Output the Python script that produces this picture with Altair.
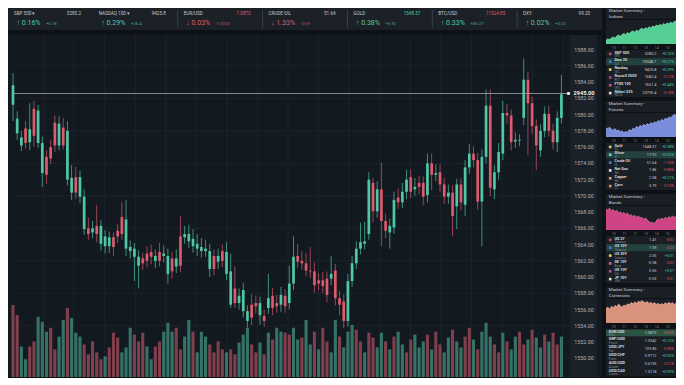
import altair as alt
import pandas as pd

FONT = "Roboto"
GREEN = "#4fc9a5"
RED = "#dc5b6e"
VGREEN = "#3b7f71"
VRED = "#8e4452"

# ---------------- main candlestick data ----------------
opens = [1581.2, 1577.7, 1576.2, 1578.3, 1576.6, 1580.7, 1576.5, 1572.8, 1574.8, 1576.0,
         1579.0, 1576.2, 1578.4, 1572.0, 1570.4, 1572.3, 1569.9, 1565.9, 1566.0, 1565.5,
         1566.3, 1564.1, 1563.8, 1563.8, 1564.9, 1565.7, 1567.4, 1563.5, 1563.2, 1562.5,
         1561.4, 1562.3, 1562.9, 1563.1, 1562.0, 1563.1, 1562.6, 1560.4, 1562.3, 1561.3,
         1565.0, 1564.9, 1564.4, 1563.8, 1563.5, 1563.2, 1563.2, 1561.0, 1562.6, 1561.9,
         1563.2, 1560.4, 1556.6, 1558.6, 1556.8, 1555.8, 1554.6, 1556.6, 1556.8, 1555.3,
         1555.2, 1556.2, 1557.7, 1556.8, 1556.6, 1557.7, 1556.8, 1559.2, 1562.6, 1562.0,
         1561.7, 1560.8, 1560.7, 1559.6, 1559.6, 1559.8, 1559.8, 1560.8, 1557.4, 1557.0,
         1554.6, 1559.5, 1561.7, 1563.5, 1564.1, 1565.3, 1571.6, 1568.1, 1570.8, 1566.9,
         1565.5, 1566.1, 1569.8, 1569.2, 1570.5, 1572.3, 1570.8, 1571.6, 1571.6, 1570.1,
         1574.0, 1572.6, 1572.9, 1571.4, 1569.9, 1570.4, 1568.7, 1571.4, 1568.9, 1573.5,
         1575.2, 1574.4, 1569.3, 1574.8, 1581.1, 1570.8, 1572.9, 1575.2, 1580.2, 1579.9,
         1576.7, 1576.8, 1579.6, 1584.3, 1581.4, 1578.6, 1575.6, 1578.0, 1580.1, 1578.0,
         1576.6, 1579.6]
closes = [1583.6, 1579.5, 1577.2, 1576.5, 1578.2, 1577.4, 1580.5, 1576.5, 1572.6, 1574.6,
          1576.2, 1578.9, 1576.2, 1578.0, 1572.2, 1570.4, 1572.3, 1569.9, 1565.3, 1566.0,
          1565.3, 1566.3, 1565.0, 1564.9, 1563.7, 1565.0, 1565.3, 1567.1, 1563.7, 1563.5,
          1562.5, 1561.7, 1562.0, 1562.5, 1562.6, 1562.0, 1562.9, 1562.6, 1560.7, 1562.3,
          1561.4, 1565.3, 1565.3, 1564.7, 1564.1, 1563.7, 1563.5, 1563.2, 1561.0, 1562.6,
          1562.0, 1563.1, 1560.7, 1556.8, 1557.7, 1558.4, 1555.8, 1555.0, 1556.4, 1556.8,
          1554.6, 1557.4, 1556.2, 1556.4, 1557.8, 1556.4, 1559.2, 1562.5, 1561.9, 1561.7,
          1560.8, 1560.7, 1559.0, 1559.2, 1558.9, 1557.8, 1560.4, 1557.4, 1556.6, 1554.6,
          1559.5, 1561.7, 1563.5, 1564.3, 1564.4, 1572.0, 1568.1, 1570.8, 1566.9, 1565.7,
          1566.3, 1569.5, 1569.2, 1570.5, 1572.0, 1570.5, 1571.1, 1571.1, 1569.9, 1574.0,
          1572.6, 1572.8, 1571.4, 1569.9, 1570.4, 1567.5, 1571.4, 1569.2, 1573.5, 1575.2,
          1574.4, 1569.3, 1574.8, 1581.1, 1571.0, 1572.9, 1575.4, 1580.2, 1579.9, 1576.6,
          1576.9, 1576.9, 1584.3, 1581.4, 1578.6, 1576.2, 1578.0, 1580.1, 1578.0, 1576.6,
          1579.6, 1582.5]
highs = [1585.1, 1580.4, 1578.0, 1579.2, 1581.4, 1581.7, 1581.2, 1577.3, 1575.6, 1576.9,
         1579.9, 1579.8, 1579.6, 1579.2, 1573.8, 1573.6, 1573.1, 1570.8, 1567.3, 1566.9,
         1568.9, 1567.0, 1565.8, 1565.6, 1565.5, 1566.5, 1569.2, 1569.5, 1564.5, 1564.2,
         1563.3, 1563.0, 1563.8, 1564.0, 1563.4, 1564.2, 1563.9, 1563.5, 1563.1, 1563.4,
         1567.5, 1566.3, 1566.4, 1565.9, 1565.3, 1564.8, 1564.6, 1564.1, 1563.4, 1563.5,
         1564.0, 1564.3, 1562.9, 1561.3, 1558.6, 1559.3, 1556.5, 1557.9, 1557.7, 1557.6,
         1556.0, 1560.4, 1558.7, 1557.8, 1558.8, 1558.5, 1561.4, 1565.0, 1564.1, 1563.2,
         1563.0, 1563.7, 1561.8, 1560.5, 1560.6, 1560.7, 1562.6, 1561.6, 1558.3, 1557.9,
         1560.4, 1562.6, 1564.4, 1566.7, 1566.8, 1572.9, 1572.2, 1571.8, 1574.1, 1567.8,
         1567.2, 1570.5, 1570.9, 1571.6, 1573.2, 1573.3, 1572.2, 1572.5, 1572.4, 1575.2,
         1575.2, 1573.9, 1573.9, 1572.2, 1571.4, 1571.3, 1572.1, 1572.2, 1574.4, 1576.4,
         1576.1, 1575.3, 1575.7, 1583.1, 1583.1, 1573.8, 1576.5, 1581.7, 1581.3, 1580.6,
         1577.8, 1577.6, 1586.9, 1585.3, 1582.2, 1579.4, 1578.8, 1581.0, 1581.1, 1578.9,
         1580.4, 1584.9]
lows = [1579.2, 1576.9, 1575.5, 1575.8, 1575.6, 1576.0, 1575.9, 1571.1, 1571.5, 1573.9,
        1575.4, 1575.6, 1575.7, 1571.3, 1569.5, 1569.6, 1569.1, 1565.2, 1564.6, 1564.8,
        1564.3, 1563.3, 1562.9, 1563.0, 1562.6, 1564.2, 1564.6, 1562.6, 1562.3, 1559.5,
        1558.6, 1560.9, 1561.2, 1561.6, 1561.1, 1561.3, 1561.8, 1559.2, 1559.8, 1560.5,
        1560.6, 1564.1, 1563.6, 1563.0, 1562.6, 1562.4, 1562.5, 1560.0, 1560.2, 1561.0,
        1561.2, 1559.6, 1556.2, 1556.2, 1556.0, 1555.0, 1553.8, 1554.1, 1555.5, 1554.1,
        1553.9, 1555.5, 1555.3, 1555.6, 1555.7, 1555.6, 1556.0, 1558.4, 1561.1, 1560.9,
        1560.1, 1559.9, 1558.1, 1558.4, 1558.0, 1556.9, 1559.0, 1556.5, 1555.3, 1553.7,
        1553.9, 1558.8, 1561.0, 1562.8, 1563.4, 1564.6, 1566.7, 1567.3, 1563.8, 1564.8,
        1563.5, 1565.3, 1568.4, 1568.5, 1569.6, 1569.7, 1570.0, 1570.2, 1568.9, 1569.2,
        1570.7, 1571.8, 1570.5, 1569.0, 1569.0, 1565.0, 1565.9, 1568.2, 1567.5, 1572.7,
        1573.5, 1568.3, 1563.8, 1574.0, 1570.0, 1569.6, 1572.0, 1574.4, 1578.9, 1575.6,
        1575.9, 1576.1, 1578.7, 1575.0, 1577.6, 1573.2, 1574.8, 1577.2, 1577.3, 1575.7,
        1575.4, 1578.9]
volumes = [73, 63, 31, 18, 31, 36, 61, 56, 46, 50,
           28, 41, 58, 70, 60, 45, 41, 33, 23, 36,
           25, 18, 21, 30, 45, 40, 25, 30, 50, 43,
           36, 45, 31, 18, 31, 36, 46, 55, 46, 50,
           28, 41, 58, 46, 25, 46, 41, 33, 25, 36,
           28, 25, 28, 23, 35, 43, 50, 33, 25, 35,
           23, 45, 38, 50, 46, 45, 43, 50, 38,
           40, 58, 33, 46, 28, 50, 36, 25, 58, 41,
           30, 46, 53, 48, 36, 25, 45, 40, 30, 45,
           36, 28, 41, 46, 33, 25, 38, 43, 30, 36,
           43, 28, 46, 33, 25, 40, 48, 36, 30, 41,
           50, 38, 28, 46, 55, 41, 33, 25, 45, 36,
           28, 41, 46, 33, 38, 48, 40, 30, 43, 36,
           45, 33, 41]
vol_dirs = ("RRGGRRGGGR" "RGGRGGGRRR" "RRGRRRGGGR" "RRGGRRGGGR" "RGGRGGGRRR" "RGRRGGGRRG" "RGRGGRRGG"
            "RGGRGRRGGR" "GGGRRGRRGG" "RGRGGRRGGG" "RGRRGGRGGR" "RGRGGGRRGR" "GGRRGRGGRG" "RRG")
price_labels = [1588, 1586, 1584, 1582, 1580, 1578, 1576, 1574, 1572, 1570,
                1568, 1566, 1564, 1562, 1560, 1558, 1556, 1554, 1552, 1550]
grid_prices = [1586, 1582, 1578, 1574, 1570, 1566, 1562, 1558, 1554, 1550]
last_price = 1582.6
last_price_text = "2945.00"

# ---------------- ticker bar ----------------
ticker_names = ["S&P 500 ▾", "NASDAQ 100 ▾", "EUR/USD", "CRUDE OIL", "GOLD", "BTC/USD", "DXY"]
ticker_values = ["3285.2", "9425.8", "1.0873", "51.64", "1548.37", "11024.85", "99.20"]
ticker_value_cols = ["#c3c8cd", "#c3c8cd", RED, "#c3c8cd", GREEN, RED, "#c3c8cd"]
ticker_pct = ["0.16%", "0.29%", "0.03%", "1.33%", "0.38%", "0.33%", "0.02%"]
ticker_abs = ["+5.18", "+26.4", "-0.0003", "-0.69", "+5.92", "+36.27", "+0.02"]
ticker_up = [True, True, False, False, True, True, True]

# ---------------- market summary panels ----------------
idx_vals = [3242, 3246, 3244, 3249, 3252, 3248, 3255, 3258, 3254, 3260, 3263, 3259, 3266, 3262,
            3268, 3271, 3267, 3273, 3270, 3276, 3279, 3275, 3281, 3278, 3284, 3280, 3286, 3283,
            3289, 3286, 3291, 3288, 3294, 3290, 3296, 3293, 3298, 3295, 3300, 3302]
fut_vals = [62.4, 62.1, 62.6, 62.0, 61.7, 62.2, 61.5, 61.8, 61.2, 61.6, 61.0, 61.4, 61.1, 61.9,
            61.5, 62.3, 62.0, 62.8, 62.4, 63.1, 62.7, 63.4, 63.0, 63.6, 63.2, 63.9, 63.5, 64.1,
            63.8, 64.5, 64.1, 64.8, 64.4, 65.1, 64.8, 65.5, 65.2, 65.8, 66.2, 66.0]
bond_vals = [1.92, 1.90, 1.93, 1.89, 1.91, 1.88, 1.90, 1.86, 1.88, 1.85, 1.87, 1.84, 1.86, 1.82,
             1.84, 1.81, 1.83, 1.80, 1.82, 1.79, 1.80, 1.77, 1.79, 1.76, 1.74, 1.72, 1.73, 1.71,
             1.75, 1.78, 1.76, 1.79, 1.77, 1.80, 1.78, 1.81, 1.79, 1.82, 1.80, 1.81]
cur_vals = [1.1065, 1.1070, 1.1062, 1.1072, 1.1068, 1.1075, 1.1071, 1.1079, 1.1074, 1.1069,
            1.1076, 1.1073, 1.1080, 1.1077, 1.1084, 1.1080, 1.1086, 1.1082, 1.1088, 1.1085,
            1.1090, 1.1086, 1.1083, 1.1087, 1.1081, 1.1085, 1.1079, 1.1084, 1.1078, 1.1082,
            1.1076, 1.1081, 1.1077, 1.1083, 1.1079, 1.1085, 1.1080, 1.1084, 1.1078, 1.1082]

ind_names = ["S&P 500", "Dow 30", "Nasdaq", "Russell 2000", "FTSE 100", "Nikkei 225"]
ind_desc = ["SPX", "DJI", "IXIC", "RUT", "UKX", "NI225"]
ind_price = ["3285.2", "29348.1", "9425.8", "1682.4", "7651.4", "23795.4"]
ind_chg = ["+0.16%", "+0.21%", "+0.29%", "-0.12%", "+0.44%", "-0.18%"]
ind_icons = ["#d9455f", "#3d7bd9", "#e6d04a", "#c8405a", "#d0506a", "#e8dcc0"]

fut_names = ["Gold", "Silver", "Crude Oil", "Nat Gas", "Copper", "Corn"]
fut_desc = ["GC", "SI", "CL", "NG", "HG", "ZC"]
fut_price = ["1548.37", "17.92", "51.64", "1.86", "2.58", "3.79"]
fut_chg = ["+0.38%", "+0.52%", "-1.33%", "-0.85%", "+0.21%", "-0.13%"]
fut_icons = ["#e6c84a", "#6fd6c0", "#4a7fd0", "#e8eef0", "#e39a5a", "#d9904a"]

bond_names = ["US 2Y", "US 10Y", "US 30Y", "DE 10Y", "UK 10Y", "JP 10Y"]
bond_desc = ["Treasury", "Treasury", "Treasury", "Bund", "Gilt", "JGB"]
bond_price = ["1.41", "1.59", "2.05", "-0.38", "0.55", "-0.03"]
bond_chg = ["-0.02", "-0.03", "+0.01", "-0.02", "+0.01", "-0.01"]
bond_icons = ["#d9455f", "#3d7bd9", "#e6d04a", "#d95a8f", "#c84a9a", "#e8dcc0"]

cur_names = ["EUR/USD", "GBP/USD", "USD/JPY", "USD/CHF", "AUD/USD", "USD/CAD"]
cur_desc = ["Euro", "Pound", "Yen", "Franc", "Aussie", "Loonie"]
cur_price = ["1.0873", "1.3042", "109.85", "0.9712", "0.6735", "1.3218"]
cur_chg = ["-0.03%", "+0.12%", "-0.08%", "+0.05%", "-0.21%", "+0.09%"]

# =====================================================================
MAIN_W, MAIN_H = 594, 342
PANEL_W = 70
PANEL_BG = "#1a1f25"

n = len(opens)
candles = pd.DataFrame({"i": list(range(n)), "open": opens, "close": closes,
                        "high": highs, "low": lows})
candles["col"] = [GREEN if c >= o else RED for o, c in zip(opens, closes)]
vol_df = pd.DataFrame({"i": list(range(n)), "vol": volumes,
                       "vcol": [VGREEN if ch == "G" else VRED for ch in vol_dirs]})

XMAX = 139.5
BAND = 133.0
xs = alt.Scale(domain=[0, XMAX], nice=False, zero=False)
ys = alt.Scale(domain=[1547.7, 1589.8], nice=False, zero=False)
vs = alt.Scale(domain=[0, 347], nice=False)

X = lambda f: alt.X(f, scale=xs, axis=None)
Yp = lambda f: alt.Y(f, scale=ys, axis=None)

band = alt.Chart(pd.DataFrame({"a": [BAND], "b": [XMAX], "lo": [1547.7], "hi": [1589.8]})).mark_rect(
    color="#1a2129").encode(x=X("a:Q"), x2="b:Q", y=Yp("lo:Q"), y2="hi:Q")

vgrid = alt.Chart(pd.DataFrame({"x": [7.3 * k for k in range(1, 19)]})).mark_rule(
    color="#1e262e", strokeWidth=0.8).encode(x=X("x:Q"))

hgrid = alt.Chart(pd.DataFrame({"p": grid_prices, "a": [0] * len(grid_prices),
                                "b": [BAND] * len(grid_prices)})).mark_rule(
    color="#1e262e", strokeWidth=0.8).encode(x=X("a:Q"), x2="b:Q", y=Yp("p:Q"))

volume = alt.Chart(vol_df).mark_bar(size=3.1, opacity=0.88, clip=True).encode(
    x=X("i:Q"), y=alt.Y("vol:Q", scale=vs, axis=None), color=alt.Color("vcol:N", scale=None))

wicks = alt.Chart(candles).mark_rule(strokeWidth=0.8, clip=True, opacity=0.85).encode(
    x=X("i:Q"), y=Yp("low:Q"), y2="high:Q", color=alt.Color("col:N", scale=None))

bodies = alt.Chart(candles).mark_bar(size=2.7, clip=True).encode(
    x=X("i:Q"), y=Yp("open:Q"), y2="close:Q", color=alt.Color("col:N", scale=None))

pl_df = pd.DataFrame({"p": [last_price], "a": [0], "b": [BAND], "m": [BAND - 0.3],
                      "t": [last_price_text]})
price_line = alt.Chart(pl_df).mark_rule(color="#a3a9af", strokeWidth=0.8).encode(
    x=X("a:Q"), x2="b:Q", y=Yp("p:Q"))
marker = alt.Chart(pl_df).mark_square(size=8, color="#eef1f3", opacity=1).encode(
    x=X("m:Q"), y=Yp("p:Q"))

labels = alt.Chart(pd.DataFrame({"p": price_labels})).mark_text(
    fontSize=5.4, color="#aab1b7", font=FONT).encode(
    x=alt.X(datum=136.4, scale=xs, axis=None), y=Yp("p:Q"), text=alt.Text("p:Q", format=".2f"))
last_label = alt.Chart(pl_df).mark_text(fontSize=5.6, color="#f2f4f5", font=FONT,
                                        fontWeight="bold").encode(
    x=alt.X(datum=136.4, scale=xs, axis=None), y=Yp("p:Q"), text="t:N")

main = alt.layer(band, vgrid, hgrid, volume, wicks, bodies, price_line, labels, last_label,
                 marker).resolve_scale(y="independent").properties(
    width=MAIN_W, height=MAIN_H, view=alt.ViewBackground(fill="#131920", stroke="transparent"))

# ---------------- ticker ----------------
slots = list(range(len(ticker_names)))
tk = pd.DataFrame({
    "name": ticker_names, "value": ticker_values, "vcol": ticker_value_cols,
    "pct": [("↑ " if u else "↓ ") + p for u, p in zip(ticker_up, ticker_pct)],
    "abs": ticker_abs,
    "ccol": [GREEN if u else RED for u in ticker_up],
    "xn": [s + 0.07 for s in slots], "xv": [s + 0.86 for s in slots],
    "xp": [s + 0.1 for s in slots], "xa": [s + 0.45 for s in slots],
})
tx = alt.Scale(domain=[0, 7], nice=False, zero=False)
ty = alt.Scale(domain=[0, 1], nice=False)
TX = lambda f: alt.X(f, scale=tx, axis=None)
tnames = alt.Chart(tk).mark_text(align="left", fontSize=4.6, color="#c3c8cd", font=FONT).encode(
    x=TX("xn:Q"), y=alt.Y(datum=0.72, scale=ty, axis=None), text="name:N")
tvals = alt.Chart(tk).mark_text(align="right", fontSize=4.6, font=FONT).encode(
    x=TX("xv:Q"), y=alt.Y(datum=0.72, scale=ty, axis=None), text="value:N",
    color=alt.Color("vcol:N", scale=None))
tpct = alt.Chart(tk).mark_text(align="left", fontSize=7, font=FONT).encode(
    x=TX("xp:Q"), y=alt.Y(datum=0.3, scale=ty, axis=None), text="pct:N",
    color=alt.Color("ccol:N", scale=None))
tabs = alt.Chart(tk).mark_text(align="left", fontSize=4.2, font=FONT, opacity=0.8).encode(
    x=TX("xa:Q"), y=alt.Y(datum=0.27, scale=ty, axis=None), text="abs:N",
    color=alt.Color("ccol:N", scale=None))
tdiv = alt.Chart(pd.DataFrame({"x": [2, 3, 4, 5, 6], "a": [0.1] * 5, "b": [0.9] * 5})).mark_rule(
    color="#3a4148", strokeWidth=1).encode(x=TX("x:Q"), y=alt.Y("a:Q", scale=ty, axis=None), y2="b:Q")
ticker = alt.layer(tdiv, tnames, tvals, tpct, tabs).properties(
    width=MAIN_W, height=22, view=alt.ViewBackground(fill="#1c2127", stroke="transparent"))


# ---------------- right panels ----------------
def make_panel(sub, series, dom, fill, line, names, desc, prices, chgs, icons, hl, hl_col):
    hs = alt.Scale(domain=[0, 1], nice=False)
    hx = alt.Scale(domain=[0, 100], nice=False, zero=False)
    hdf = pd.DataFrame({"t": ["Market Summary ›"], "s": [sub]})
    header = alt.layer(
        alt.Chart(hdf).mark_text(align="left", fontSize=4.4, color="#c9ced3", font=FONT).encode(
            x=alt.X(datum=4, scale=hx, axis=None), y=alt.Y(datum=0.7, scale=hs, axis=None), text="t:N"),
        alt.Chart(hdf).mark_text(align="left", fontSize=4.4, color="#c9ced3", font=FONT).encode(
            x=alt.X(datum=4, scale=hx, axis=None), y=alt.Y(datum=0.22, scale=hs, axis=None), text="s:N"),
    ).properties(width=PANEL_W, height=11,
                 view=alt.ViewBackground(fill=PANEL_BG, stroke="transparent"))

    adf = pd.DataFrame({"i": list(range(len(series))), "v": series})
    area = alt.Chart(adf).mark_area(color=fill, opacity=0.95, clip=True,
                                    line=alt.OverlayMarkDef(color=line, strokeWidth=0.6)).encode(
        x=alt.X("i:Q", scale=alt.Scale(domain=[0, len(series) - 1], nice=False),
                axis=alt.Axis(values=[4, 10, 16, 22, 28, 34],
                              labelExpr="'' + (10 + (datum.value - 4) / 6)",
                              labelFontSize=3.4, labelColor="#7b828a", labelFont=FONT,
                              ticks=False, domain=False, grid=False, labelPadding=1, title=None)),
        y=alt.Y("v:Q", scale=alt.Scale(domain=dom, nice=False, zero=False), axis=None),
    ).properties(width=PANEL_W, height=24,
                 view=alt.ViewBackground(fill=PANEL_BG, stroke="transparent"))

    rdf = pd.DataFrame({"row": list(range(6)), "name": names, "desc": desc, "price": prices,
                        "chg": chgs, "icon": icons if icons else ["#000000"] * 6,
                        "hl": [1 if k == hl else 0 for k in range(6)]})
    rdf["ccol"] = [GREEN if c.startswith("+") else RED for c in chgs]
    rx = alt.Scale(domain=[0, 100], nice=False, zero=False)
    ry = alt.Scale(domain=list(range(6)), paddingInner=0.12, paddingOuter=0.06)
    Y = alt.Y("row:O", scale=ry, axis=None)
    base = alt.Chart(rdf)
    name_x = 12 if icons else 4
    layers = [
        base.transform_filter("datum.hl == 1").mark_rect(color=hl_col).encode(
            x=alt.X(datum=0, scale=rx, axis=None), x2=alt.X2(datum=100), y=Y),
    ]
    if icons:
        layers.append(base.mark_square(size=7, opacity=1).encode(
            x=alt.X(datum=6, scale=rx, axis=None), y=Y, color=alt.Color("icon:N", scale=None)))
    layers += [
        base.mark_text(align="left", fontSize=3.8, fontWeight="bold", color="#d3d8dc",
                       font=FONT, dy=-1.3).encode(
            x=alt.X(datum=name_x, scale=rx, axis=None), y=Y, text="name:N"),
        base.mark_text(align="left", fontSize=3.0, color="#80878e", font=FONT, dy=2.1).encode(
            x=alt.X(datum=name_x, scale=rx, axis=None), y=Y, text="desc:N"),
        base.mark_text(align="right", fontSize=3.8, color="#c9ced3", font=FONT).encode(
            x=alt.X(datum=72, scale=rx, axis=None), y=Y, text="price:N"),
        base.mark_text(align="right", fontSize=3.6, font=FONT).encode(
            x=alt.X(datum=97, scale=rx, axis=None), y=Y, text="chg:N",
            color=alt.Color("ccol:N", scale=None)),
    ]
    rows = alt.layer(*layers).properties(
        width=PANEL_W, height=47, view=alt.ViewBackground(fill=PANEL_BG, stroke="transparent"))
    return alt.vconcat(header, area, rows, spacing=1)


panels = [
    make_panel("Indices", idx_vals, [3230, 3305], "#5ad99a", "#8ff0bf",
               ind_names, ind_desc, ind_price, ind_chg, ind_icons, 1, "#23423f"),
    make_panel("Futures", fut_vals, [59.8, 66.6], "#7f93e6", "#b3c0ff",
               fut_names, fut_desc, fut_price, fut_chg, fut_icons, 1, "#23423f"),
    make_panel("Bonds", bond_vals, [1.62, 1.96], "#d9478a", "#f07ab0",
               bond_names, bond_desc, bond_price, bond_chg, bond_icons, 1, "#23423f"),
    make_panel("Currencies", cur_vals, [1.1020, 1.1095], "#e49a82", "#f6c0a8",
               cur_names, cur_desc, cur_price, cur_chg, None, 0, "#2c5444"),
]
right = alt.vconcat(*panels, spacing=3)
left = alt.vconcat(ticker, main, spacing=4)

chart = alt.hconcat(left, right, spacing=4).properties(
    background="#0e1115", padding=0
).configure(font=FONT).configure_view(strokeWidth=0)

chart.save("out.html", embed_options={"renderer": "svg", "actions": False})
